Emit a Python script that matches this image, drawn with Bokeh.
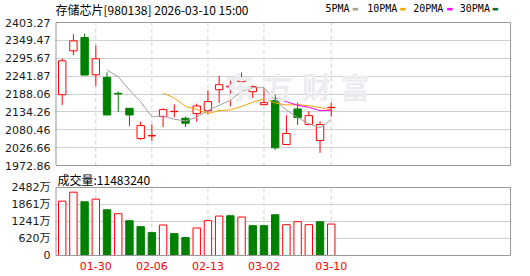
import math
from bokeh.plotting import figure
from bokeh.models import Range1d, FixedTicker, Label, ColumnDataSource, PrintfTickFormatter
from bokeh.layouts import column
from bokeh.embed import file_html
from bokeh.resources import INLINE

nan = float("nan")

# ---- data ----
dates = ["01-27", "01-28", "01-29", "01-30", "02-02", "02-03", "02-04", "02-05", "02-06",
         "02-09", "02-10", "02-11", "02-12", "02-13", "02-24", "02-25", "02-26", "02-27",
         "03-02", "03-03", "03-04", "03-05", "03-06", "03-09", "03-10"]
opens = [2186, 2318, 2358, 2246, 2238, 2190, 2145, 2054, 2062, 2120, 2135, 2115, 2129,
         2138, 2201, 2209, 2225, 2195, 2156, 2168, 2036, 2143, 2096, 2048, 2147]
closes = [2288, 2348, 2245, 2294, 2125, 2188, 2125, 2093, 2063, 2141, 2136, 2100, 2152,
          2165, 2216, 2212, 2234, 2210, 2162, 2026, 2069, 2117, 2123, 2096, 2148]
highs = [2295, 2368, 2370, 2334, 2253, 2196, 2145, 2105, 2097, 2145, 2157, 2120, 2159,
         2199, 2243, 2229, 2253, 2214, 2205, 2186, 2124, 2162, 2136, 2106, 2162]
lows = [2155, 2305, 2245, 2212, 2125, 2134, 2092, 2050, 2047, 2089, 2118, 2089, 2105,
        2128, 2161, 2151, 2186, 2175, 2156, 2020, 2036, 2095, 2096, 2011, 2120]
ma5 = [nan, nan, nan, nan, 2260, 2240, 2200, 2165, 2119, 2122, 2112, 2107, 2118, 2139,
       2154, 2169, 2196, 2207, 2207, 2169, 2140, 2117, 2099, 2086, 2111]
ma10 = [nan] * 9 + [2191, 2176, 2151, 2142, 2129, 2138, 2140, 2151, 2163, 2173, 2161,
                    2155, 2156, 2153, 2147, 2140]
ma20 = [nan] * 19 + [2176, 2165, 2154, 2148, 2138, 2139]
volumes = [1984, 2311, 1960, 2057, 1670, 1525, 1270, 1053, 835, 1113, 799, 653, 1004,
           1270, 1440, 1452, 1404, 1089, 1089, 1488, 1125, 1234, 1125, 1234, 1148]
date_labels = ["01-30", "02-06", "02-13", "03-02", "03-10"]
price_ticks = [1972.86, 2026.66, 2080.46, 2134.26, 2188.06, 2241.87, 2295.67, 2349.47, 2403.27]
vol_ticks = [0, 620.5, 1241, 1861.5, 2482]
vol_tick_labels = ["0", "620万", "1241万", "1861万", "2482万"]
title_text = "存储芯片[980138] 2026-03-10 15:00"
vol_title = "成交量:11483240"
watermark = "东方财富"
legend_names = ["5PMA", "10PMA", "20PMA", "30PMA"]
legend_colors = ["#a0a0a0", "#f0a30a", "#ff00ff", "#00702e"]

RED = "#ff0000"
GREEN = "#008000"
GRID = "#d0d0d0"
FRAME = "#999999"
TXT = "#1a1a1a"

# ---- layout geometry (pixels) ----
W = 530
FL, FR = 54, 511            # frame left/right (canvas px), box drawn 1px inside
BOX_L, BOX_R = 55.5, 510    # visible panel border
STEP = 11.21                # px per candle
X0 = 61.7                   # px of first candle
P1_H, P1_FB = 172, 166      # figure height, frame bottom
P1_TOP, P1_BOT = 22, 165    # price box top/bottom px
P2_H, P2_FB = 104, 84       # figure 2 height, frame bottom (in its own canvas)
P2_TOP, P2_BOT = 15, 83     # volume box top/bottom px (own canvas)


def xdata(px):
    return (px - X0) / STEP


x_range = Range1d(xdata(FL), xdata(FR))

pmin, pmax = price_ticks[0], price_ticks[-1]
ppu = (P1_BOT - P1_TOP) / (pmax - pmin)
y1_range = Range1d(pmin - (P1_FB - P1_BOT) / ppu, pmax + P1_TOP / ppu)

vmin, vmax = vol_ticks[0], vol_ticks[-1]
vpu = (P2_BOT - P2_TOP) / (vmax - vmin)
y2_range = Range1d(vmin - (P2_FB - P2_BOT) / vpu, vmax + P2_TOP / vpu)

xs = list(range(len(dates)))
label_idx = [dates.index(d) for d in date_labels]

up = [c >= o for o, c in zip(opens, closes)]
cdl = ColumnDataSource(dict(
    x=xs, high=highs, low=lows,
    top=[max(o, c) for o, c in zip(opens, closes)],
    bottom=[min(o, c) for o, c in zip(opens, closes)],
    line=[RED if u else GREEN for u in up],
    fill=["#ffffff" if u else GREEN for u in up],
))
vol_up = [closes[0] >= opens[0]] + [closes[i] >= closes[i - 1] for i in range(1, len(closes))]
vsrc = ColumnDataSource(dict(
    x=xs, v=volumes,
    line=[RED if u else GREEN for u in vol_up],
    fill=["#ffffff" if u else GREEN for u in vol_up],
))


def style_yaxis(p, font):
    p.yaxis.axis_line_color = None
    p.yaxis.major_tick_line_color = None
    p.yaxis.minor_tick_line_color = None
    p.yaxis.major_tick_out = 0
    p.yaxis.major_tick_in = 0
    p.yaxis.major_label_standoff = 4
    p.yaxis.major_label_text_font = font
    p.yaxis.major_label_text_font_size = "11px"
    p.yaxis.major_label_text_color = TXT


# ---------------- main price panel ----------------
p1 = figure(width=W, height=P1_H, x_range=x_range, y_range=y1_range,
            output_backend="svg", toolbar_location=None, x_axis_location=None,
            min_border_left=FL, min_border_right=W - FR, min_border_top=0,
            min_border_bottom=P1_H - P1_FB)
p1.outline_line_color = None
p1.background_fill_color = "#ffffff"
p1.border_fill_color = "#ffffff"
p1.yaxis.ticker = FixedTicker(ticks=price_ticks)
p1.yaxis.formatter = PrintfTickFormatter(format="%.2f")
style_yaxis(p1, "DejaVu Sans")
p1.ygrid.ticker = FixedTicker(ticks=price_ticks[1:-1])
p1.ygrid.grid_line_color = GRID
p1.xgrid.visible = False

# vertical dashed date lines
p1.segment(x0=label_idx, x1=label_idx, y0=[pmin] * len(label_idx), y1=[pmax] * len(label_idx),
           line_color=GRID, line_dash="4 3", line_width=1)

# watermark
for k, ch in enumerate(watermark):
    p1.add_layout(Label(x=239 + 38.5 * k - FL, y=P1_FB - 85, x_units="screen", y_units="screen",
                        text=ch, text_align="center", text_baseline="middle",
                        text_font="Noto Sans CJK SC", text_font_size="29px",
                        text_font_style="bold", text_color="#ececf0"))

p1.segment(x0="x", y0="low", x1="x", y1="high", source=cdl, line_color="line", line_width=1)
p1.vbar(x="x", top="top", bottom="bottom", width=0.66, source=cdl,
        fill_color="fill", line_color="line", line_width=1)

p1.line(xs, ma5, line_color=legend_colors[0], line_width=1)
p1.line(xs, ma10, line_color=legend_colors[1], line_width=1)
p1.line(xs, ma20, line_color=legend_colors[2], line_width=1)

# panel border
p1.quad(left=[xdata(BOX_L)], right=[xdata(BOX_R)], bottom=[pmin], top=[pmax],
        fill_color=None, line_color=FRAME, line_width=1)

p1.add_layout(Label(x=55 - FL, y=P1_FB - 8.5, x_units="screen", y_units="screen", text=title_text,
                    text_align="left", text_baseline="middle", text_font="Noto Sans CJK SC",
                    text_font_size="12px", text_color="#000000"))

leg_text_x = [325, 366.7, 412.7, 459.3]
leg_sw_x = [354.8, 402.6, 449.3, 494.8]
for name, col, tx, sx in zip(legend_names, legend_colors, leg_text_x, leg_sw_x):
    p1.add_layout(Label(x=tx - FL, y=P1_FB - 8.3, x_units="screen", y_units="screen", text=name,
                        text_align="left", text_baseline="middle", text_font="DejaVu Sans Mono",
                        text_font_size="10px", text_color="#000000"))
    p1.add_layout(Label(x=sx - FL, y=P1_FB - 8, x_units="screen", y_units="screen", text="▬",
                        text_align="center", text_baseline="middle", text_font="DejaVu Sans",
                        text_font_size="7px", text_color=col))

# ---------------- volume panel ----------------
p2 = figure(width=W, height=P2_H, x_range=x_range, y_range=y2_range,
            output_backend="svg", toolbar_location=None,
            min_border_left=FL, min_border_right=W - FR, min_border_top=0,
            min_border_bottom=P2_H - P2_FB)
p2.outline_line_color = None
p2.background_fill_color = "#ffffff"
p2.border_fill_color = "#ffffff"
p2.yaxis.ticker = FixedTicker(ticks=vol_ticks)
p2.yaxis.major_label_overrides = {t: s for t, s in zip(vol_ticks, vol_tick_labels)}
style_yaxis(p2, "DejaVu Sans, Noto Sans CJK SC")
p2.ygrid.ticker = FixedTicker(ticks=vol_ticks[1:-1])
p2.ygrid.grid_line_color = GRID
p2.xgrid.visible = False

p2.xaxis.ticker = FixedTicker(ticks=label_idx)
p2.xaxis.major_label_overrides = {i: d for i, d in zip(label_idx, date_labels)}
p2.xaxis.axis_line_color = None
p2.xaxis.major_tick_line_color = None
p2.xaxis.minor_tick_line_color = None
p2.xaxis.major_tick_out = 0
p2.xaxis.major_tick_in = 0
p2.xaxis.major_label_standoff = 5
p2.xaxis.major_label_text_font = "DejaVu Sans"
p2.xaxis.major_label_text_font_size = "11px"
p2.xaxis.major_label_text_color = RED

p2.segment(x0=label_idx, x1=label_idx, y0=[vmin] * len(label_idx), y1=[vmax] * len(label_idx),
           line_color=GRID, line_dash="4 3", line_width=1)

p2.vbar(x="x", top="v", bottom=0, width=0.66, source=vsrc,
        fill_color="fill", line_color="line", line_width=1)

p2.quad(left=[xdata(BOX_L)], right=[xdata(BOX_R)], bottom=[vmin], top=[vmax],
        fill_color=None, line_color=FRAME, line_width=1)

p2.add_layout(Label(x=57 - FL, y=P2_FB - 7, x_units="screen", y_units="screen", text=vol_title,
                    text_align="left", text_baseline="middle", text_font="Noto Sans CJK SC",
                    text_font_size="12px", text_color="#000000"))

layout = column(p1, p2, spacing=0)
open("out.html", "w").write(file_html(layout, INLINE))
